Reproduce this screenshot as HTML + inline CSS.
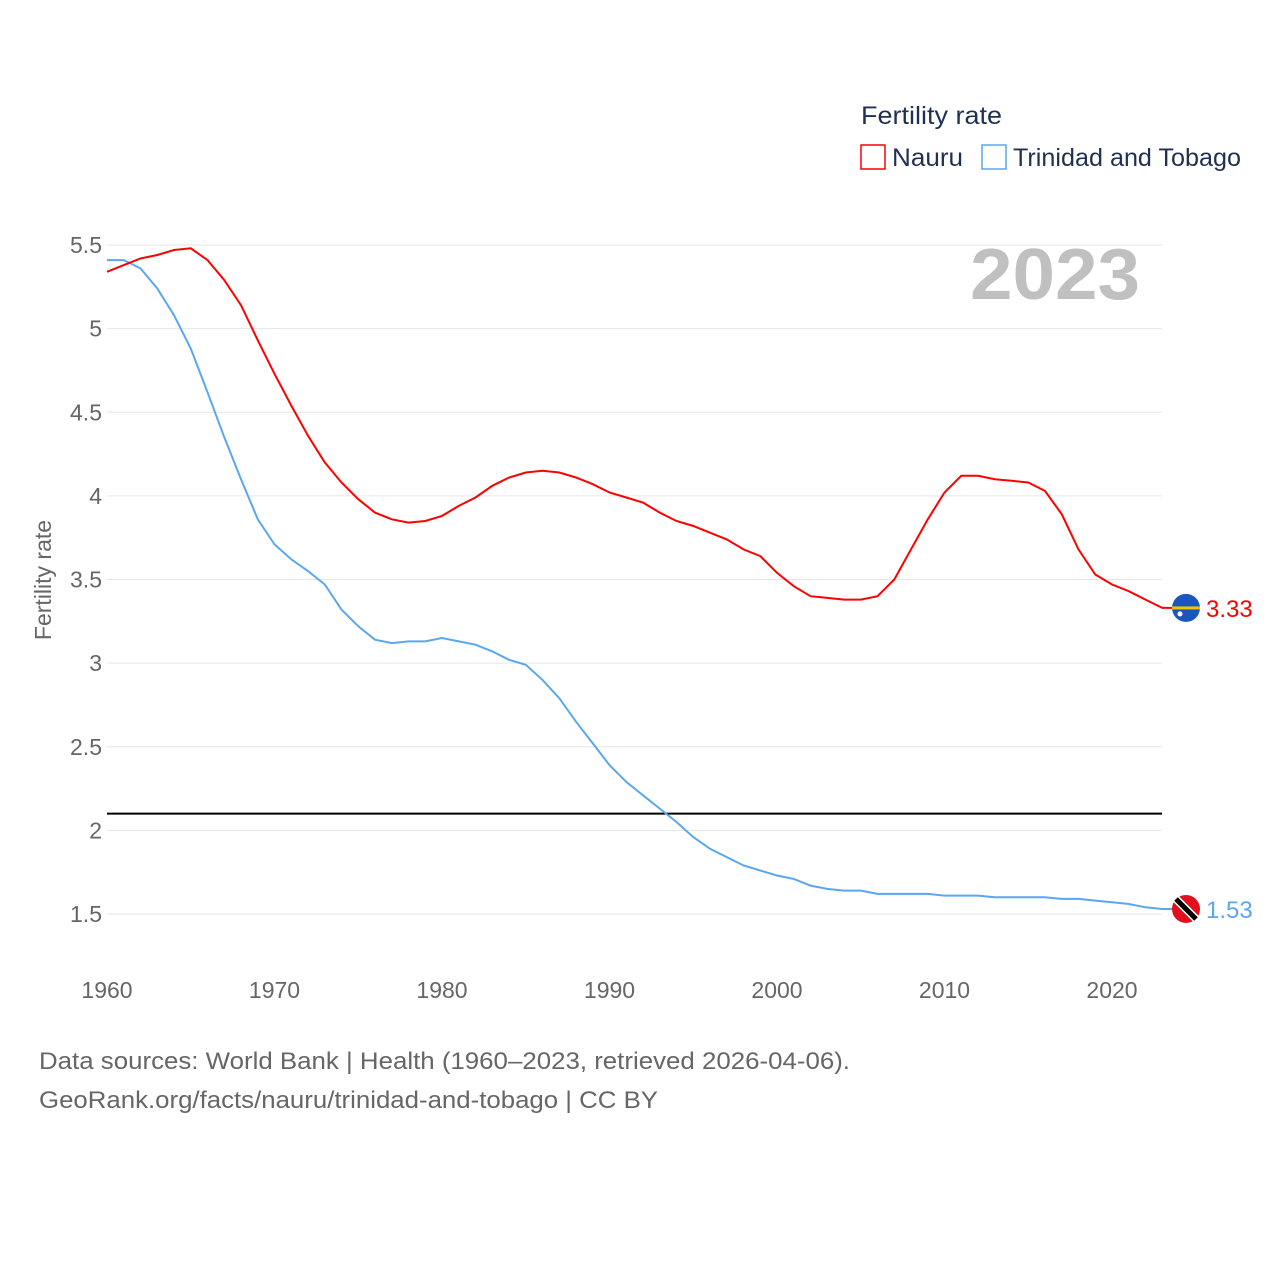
<!DOCTYPE html>
<html><head><meta charset="utf-8"><style>
body{margin:0;background:#fff;font-family:"Liberation Sans",sans-serif}
svg text{font-family:"Liberation Sans",sans-serif}
</style></head><body>
<svg id="chart" width="1280" height="1280" viewBox="0 0 1280 1280" xmlns="http://www.w3.org/2000/svg">
<rect width="1280" height="1280" fill="#fff"/>
<g id="grid"></g>
<g id="series"></g>
<text x="970" y="299" textLength="170" lengthAdjust="spacingAndGlyphs" font-size="72" font-weight="bold" fill="#c0c0c0">2023</text>
<text x="861" y="124" textLength="141" lengthAdjust="spacingAndGlyphs" font-size="25" fill="#1f3050">Fertility rate</text>
<rect x="861" y="145" width="24" height="24" fill="none" stroke="#f00" stroke-width="1.5"/>
<text x="892" y="166" textLength="71" lengthAdjust="spacingAndGlyphs" font-size="25" fill="#1f3050">Nauru</text>
<rect x="982" y="145" width="24" height="24" fill="none" stroke="#5aa7f0" stroke-width="1.5"/>
<text x="1013" y="166" textLength="228" lengthAdjust="spacingAndGlyphs" font-size="25" fill="#1f3050">Trinidad and Tobago</text>
<text transform="translate(51,580) rotate(-90)" text-anchor="middle" font-size="23" fill="#666">Fertility rate</text>
<text x="39" y="1069" textLength="811" lengthAdjust="spacingAndGlyphs" font-size="24" fill="#666">Data sources: World Bank | Health (1960–2023, retrieved 2026-04-06).</text>
<text x="39" y="1108" textLength="619" lengthAdjust="spacingAndGlyphs" font-size="24" fill="#666">GeoRank.org/facts/nauru/trinidad-and-tobago | CC BY</text>
</svg>
<script>
const years=[];for(let y=1960;y<=2023;y++)years.push(y);
const nauru=[5.34,5.38,5.42,5.44,5.47,5.48,5.41,5.29,5.14,4.93,4.73,4.54,4.36,4.20,4.08,3.98,3.90,3.86,3.84,3.85,3.88,3.94,3.99,4.06,4.11,4.14,4.15,4.14,4.11,4.07,4.02,3.99,3.96,3.90,3.85,3.82,3.78,3.74,3.68,3.64,3.54,3.46,3.40,3.39,3.38,3.38,3.40,3.50,3.68,3.86,4.02,4.12,4.12,4.10,4.09,4.08,4.03,3.89,3.68,3.53,3.47,3.43,3.38,3.33];
const trinidad=[5.41,5.41,5.36,5.24,5.08,4.88,4.62,4.35,4.10,3.86,3.71,3.62,3.55,3.47,3.32,3.22,3.14,3.12,3.13,3.13,3.15,3.13,3.11,3.07,3.02,2.99,2.90,2.79,2.65,2.52,2.39,2.29,2.21,2.13,2.05,1.96,1.89,1.84,1.79,1.76,1.73,1.71,1.67,1.65,1.64,1.64,1.62,1.62,1.62,1.62,1.61,1.61,1.61,1.60,1.60,1.60,1.60,1.59,1.59,1.58,1.57,1.56,1.54,1.53];
const yTicks=[1.5,2,2.5,3,3.5,4,4.5,5,5.5];
const xTicks=[1960,1970,1980,1990,2000,2010,2020];
const refValue=2.1;
const NS="http://www.w3.org/2000/svg";
const X=v=>107+(v-1960)*16.75;
const Y=v=>914-(v-1.5)*167.25;
const grid=document.getElementById('grid'),ser=document.getElementById('series');
function mk(tag,attrs,parent){const e=document.createElementNS(NS,tag);for(const k in attrs)e.setAttribute(k,attrs[k]);parent.appendChild(e);return e;}
yTicks.forEach(t=>{
  const l=mk('line',{x1:107,x2:1162,y1:Y(t),y2:Y(t),stroke:'#e6e6e6','stroke-width':1},grid);
  
  
  const tx=mk('text',{x:102,y:Y(t)+8,'text-anchor':'end','font-size':23,fill:'#666'},grid);
  tx.textContent=String(t);
  
  
});
xTicks.forEach(t=>{
  const tx=mk('text',{x:X(t),y:998,'text-anchor':'middle','font-size':23,fill:'#666'},grid);
  tx.textContent=String(t);
  
  
});
const ref=mk('line',{x1:107,x2:1162,y1:Y(refValue),y2:Y(refValue),stroke:'#000','stroke-width':2},ser);


function line(vals,color,name){
  const d=vals.map((v,i)=>(i?'L':'M')+X(years[i]).toFixed(1)+','+Y(v).toFixed(1)).join('')+'H1186';
  const p=mk('path',{d:d,fill:'none',stroke:color,'stroke-width':2},ser);
  
  
}
line(trinidad,'#5aa7f0','trinidad-line');
line(nauru,'#f00','nauru-line');
function endMark(vals,color,name,flag){
  const v=vals[vals.length-1],cy=Y(v);
  const c=mk('circle',{cx:1186,cy:cy,r:14,fill:flag==='nr'?'#1a55c0':'#e0101e'},ser);
  
  
  if(flag==='nr'){mk('rect',{x:1172,y:cy-1.5,width:28,height:3,fill:'#f5c400'},ser);mk('circle',{cx:1180,cy:cy+6,r:2.5,fill:'#fff'},ser);}
  else{mk('line',{x1:1176,y1:cy-10,x2:1196,y2:cy+10,stroke:'#fff','stroke-width':8},ser);mk('line',{x1:1176,y1:cy-10,x2:1196,y2:cy+10,stroke:'#000','stroke-width':5},ser);}
  const t=mk('text',{x:1206,y:cy+9,'font-size':24,fill:color},ser);
  t.textContent=v.toFixed(2);
  
  
}
endMark(nauru,'#f00','nauru','nr');
endMark(trinidad,'#5aa7f0','trinidad','tt');
</script>
</body></html>
